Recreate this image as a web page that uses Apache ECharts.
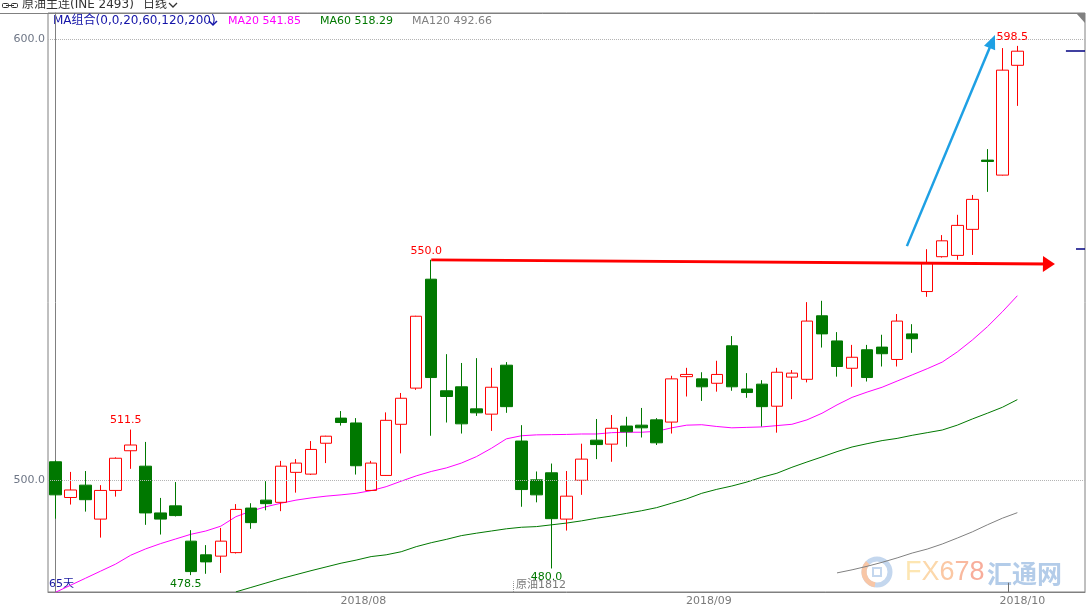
<!DOCTYPE html>
<html><head><meta charset="utf-8">
<script src="https://cdn.jsdelivr.net/npm/echarts@6/dist/echarts.min.js"></script>
<style>html,body{margin:0;padding:0;background:#fff}#c{width:1086px;height:609px}</style>
</head><body><div id="c"></div><script>
// ---------- data ----------
const dates = [
 '2018-07-02','2018-07-03','2018-07-04','2018-07-05','2018-07-06','2018-07-09','2018-07-10','2018-07-11','2018-07-12','2018-07-13',
 '2018-07-16','2018-07-17','2018-07-18','2018-07-19','2018-07-20','2018-07-23','2018-07-24','2018-07-25','2018-07-26','2018-07-27',
 '2018-07-30','2018-07-31',
 '2018-08-01','2018-08-02','2018-08-03','2018-08-06','2018-08-07','2018-08-08','2018-08-09','2018-08-10','2018-08-13','2018-08-14',
 '2018-08-15','2018-08-16','2018-08-17','2018-08-20','2018-08-21','2018-08-22','2018-08-23','2018-08-24','2018-08-27','2018-08-28',
 '2018-08-29','2018-08-30','2018-08-31',
 '2018-09-03','2018-09-04','2018-09-05','2018-09-06','2018-09-07','2018-09-10','2018-09-11','2018-09-12','2018-09-13','2018-09-14',
 '2018-09-17','2018-09-18','2018-09-19','2018-09-20','2018-09-21','2018-09-25','2018-09-26','2018-09-27','2018-09-28',
 '2018-10-08'
];
const emptySlots = ['2018-10-09','2018-10-10','2018-10-11','2018-10-12'];
const open = [504.2,496.1,498.9,491.2,497.7,506.7,503.2,492.6,494.2,486.2,
 483.1,482.8,483.6,493.7,495.5,495.0,501.8,501.4,508.4,514.1,
 513.0,497.7,501.1,512.7,520.9,545.6,520.3,521.2,516.2,515.0,
 526.1,508.9,500.1,501.7,491.2,500.0,509.1,508.2,512.3,512.5,
 513.7,513.2,523.5,523.0,522.0,530.5,520.7,521.8,516.8,523.4,
 522.9,537.3,531.6,525.4,529.6,530.2,527.4,533.2,542.8,550.7,
 551.0,556.9,572.6,569.2,594.1];
const close = [496.7,497.8,495.6,497.7,505.0,508.0,492.6,491.2,492.0,479.3,
 481.5,486.2,493.4,490.4,494.7,503.2,503.9,507.0,510.0,513.1,
 503.3,503.9,513.6,518.6,537.2,523.3,519.0,512.8,515.3,521.1,
 516.7,497.9,496.7,491.3,496.4,504.8,508.1,511.8,511.0,511.9,
 508.5,523.0,524.0,521.2,524.0,521.2,519.9,516.7,524.5,524.3,
 536.1,533.2,525.8,527.9,523.3,528.7,536.1,532.1,549.2,554.3,
 557.8,563.7,572.3,593.0,597.3];
const low = [491.3,494.5,492.9,487.0,496.3,502.6,489.9,487.7,491.8,478.5,
 478.8,479.0,483.4,489.0,493.2,493.0,497.2,501.2,503.9,512.4,
 501.3,497.6,501.0,506.1,520.5,510.1,513.1,510.6,514.6,511.2,
 515.3,494.0,495.0,480.0,488.6,496.7,504.8,504.2,507.6,509.7,
 508.0,510.6,519.0,518.0,520.1,520.3,518.7,512.2,510.8,518.4,
 522.2,530.1,523.5,521.2,522.4,525.8,525.8,528.9,541.6,550.5,
 550.0,551.1,565.4,569.1,584.9];
const high = [504.5,501.9,502.1,498.9,505.2,511.5,508.7,496.0,499.6,488.7,
 485.3,489.2,494.6,494.8,499.8,504.4,504.8,508.9,510.1,515.7,
 514.1,504.4,515.4,519.8,537.3,550.0,528.6,526.6,527.7,525.5,
 526.8,512.5,502.0,503.8,502.1,508.3,513.9,514.8,514.4,516.4,
 514.1,523.7,525.5,524.5,527.1,532.7,524.3,522.7,525.5,525.0,
 540.4,540.7,533.6,530.7,530.7,533.0,537.7,535.4,552.4,555.6,
 560.2,564.7,575.1,598.0,598.5];
const ma20 = [474.6,476.2,477.8,479.4,481.0,483.0,484.45,485.65,486.7,487.75,
 488.5,489.6,491.75,493.0,494.0,494.8,495.5,496.0,496.4,496.7,
 497.05,497.65,498.55,499.8,501.0,502.0,502.8,503.9,505.35,507.25,
 509.4,510.1,510.3,510.35,510.4,510.5,510.5,510.8,510.9,510.9,
 511.1,511.9,512.5,512.6,512.2,511.9,512.0,512.1,512.4,512.7,
 513.7,515.2,517.1,518.8,520.0,521.1,522.5,523.9,525.3,526.8,
 529.1,531.8,534.8,538.2,541.85];
const ma60 = [null,null,null,null,null,null,null,null,null,null,
 null,null,474.7,475.7,476.7,477.7,478.6,479.5,480.35,481.2,
 481.9,482.7,483.1,483.8,484.95,485.85,486.6,487.45,488.0,488.5,
 489.0,489.35,489.5,489.9,490.3,490.8,491.4,491.9,492.5,493.1,
 493.8,494.8,495.8,497.05,497.95,498.7,499.6,500.7,501.6,502.95,
 504.15,505.3,506.5,507.55,508.3,509.0,509.5,510.2,510.8,511.4,
 512.5,513.9,515.2,516.55,518.29];
const ma120 = [null,null,null,null,null,null,null,null,null,null,
 null,null,null,null,null,null,null,null,null,null,
 null,null,null,null,null,null,null,null,null,null,
 null,null,null,null,null,null,null,null,null,null,
 null,null,null,null,null,null,null,null,null,null,
 null,null,479.0,479.7,480.5,481.4,482.4,483.5,484.4,485.55,
 486.9,488.3,489.9,491.4,492.66];
const yTicks = [500, 600];
const highMarks = [5, 25, 64];
const lowMarks = [9, 33];
const contractName = '原油1812';
const levelMark = 552.4;

// ---------- build ----------
const FONT = 'DejaVu Sans, Noto Sans CJK SC, sans-serif';
const WM = '27px Liberation Sans, sans-serif';
const cats = dates.concat(emptySlots);
const lastIdx = dates.length - 1;
const candles = dates.map((d, i) => [open[i], close[i], low[i], high[i]]);
const monthStarts = [];
for (let i = 1; i < dates.length; i++) if (dates[i].slice(0, 7) !== dates[i - 1].slice(0, 7)) monthStarts.push(i);
const yMin = 474.67, yMax = 605.96;

const mp = highMarks.map(i => ({
  coord: [cats[i], high[i]], value: high[i],
  label: { position: 'top', distance: 3, color: '#ff0000' }
})).concat(lowMarks.map(i => ({
  coord: [cats[i], low[i]], value: low[i],
  label: { position: 'bottom', distance: 3, color: '#007800' }
})));

const chart = echarts.init(document.getElementById('c'), null, { renderer: 'canvas' });
chart.setOption({
  animation: false,
  textStyle: { fontFamily: FONT },
  grid: { left: 48, right: 1, top: 13, bottom: 17, show: true, borderColor: '#808080', borderWidth: 1 },
  xAxis: [{
    type: 'category', boundaryGap: true,
    data: cats.map((d, i) => i === lastIdx ? { value: d, textStyle: { align: 'center' } } : d),
    axisLine: { lineStyle: { color: '#808080' } }, axisTick: { show: false }, splitLine: { show: false },
    axisLabel: {
      interval: (i) => monthStarts.indexOf(i) >= 0,
      formatter: (v, i) => { const s = v.slice(0, 4) + '/' + v.slice(5, 7); return i === lastIdx ? '{o|' + s + '}' : s; },
      align: 'right', margin: 4, color: '#7a7a7a', fontSize: 11, fontFamily: FONT,
      rich: { o: { padding: [0, 0, 0, 10], color: '#7a7a7a', fontSize: 11, fontFamily: FONT } }
    }
  }, {
    type: 'value', min: -0.5, max: cats.length - 0.5, show: false
  }],
  yAxis: {
    type: 'value', min: yMin, max: yMax,
    axisLine: { show: true, lineStyle: { color: '#808080' } }, axisTick: { show: false }, splitLine: { show: false },
    axisLabel: { customValues: yTicks, formatter: v => v.toFixed(1), color: '#6e7686', fontSize: 11, fontFamily: FONT, margin: 3 }
  },
  graphic: [
    { type: 'line', shape: { x1: 0, y1: 13.5, x2: 1085, y2: 13.5 }, style: { stroke: '#808080', lineWidth: 1 } },
    { type: 'polygon', shape: { points: [[1076, 13], [1085, 13], [1085, 23]] }, style: { fill: '#808080' } },
    { type: 'rect', shape: { x: 2.5, y: 3.5, width: 6, height: 4, r: 1 }, style: { fill: 'none', stroke: '#333', lineWidth: 1 } },
    { type: 'rect', shape: { x: 11.5, y: 3.5, width: 6, height: 4, r: 1 }, style: { fill: 'none', stroke: '#333', lineWidth: 1 } },
    { type: 'line', shape: { x1: 6, y1: 5.5, x2: 14, y2: 5.5 }, style: { stroke: '#333', lineWidth: 1 } },
    { type: 'text', x: 22, y: 5, style: { text: '原油主连(INE 2493)', fill: '#333', font: '12px ' + FONT, verticalAlign: 'middle' } },
    { type: 'text', x: 143, y: 5, style: { text: '日线', fill: '#333', font: '12px ' + FONT, verticalAlign: 'middle' } },
    { type: 'polyline', shape: { points: [[169, 3], [173, 7], [177, 3]] }, style: { stroke: '#333', lineWidth: 1.3, fill: 'none' } },
    { type: 'text', x: 53, y: 21, style: { text: 'MA组合(0,0,20,60,120,200)', fill: '#1414a8', font: '12px ' + FONT, verticalAlign: 'middle' } },
    { type: 'polyline', shape: { points: [[209, 21], [213, 25], [217, 21]] }, style: { stroke: '#1414a8', lineWidth: 1.5, fill: 'none' } },
    { type: 'text', x: 228, y: 21, style: { text: 'MA20 ' + ma20[lastIdx].toFixed(2), fill: '#ff00ff', font: '11px ' + FONT, verticalAlign: 'middle' } },
    { type: 'text', x: 320, y: 21, style: { text: 'MA60 ' + ma60[lastIdx].toFixed(2), fill: '#007800', font: '11px ' + FONT, verticalAlign: 'middle' } },
    { type: 'text', x: 412, y: 21, style: { text: 'MA120 ' + ma120[lastIdx].toFixed(2), fill: '#808080', font: '11px ' + FONT, verticalAlign: 'middle' } },
    { type: 'text', x: 49, y: 584, style: { text: dates.length + '天', fill: '#1a1aa0', font: '11px ' + FONT, verticalAlign: 'middle' } },
    { type: 'text', x: 516, y: 585, style: { text: contractName, fill: '#7a7a7a', font: '11px ' + FONT, verticalAlign: 'middle' } },
    { type: 'group', z: -1, children: [
      { type: 'circle', shape: { cx: 877, cy: 572, r: 13 }, style: { fill: 'none', stroke: '#c4d7ee', lineWidth: 5 } },
      { type: 'arc', shape: { cx: 877, cy: 572, r: 13, startAngle: Math.PI * 0.55, endAngle: Math.PI * 1.25 }, style: { fill: 'none', stroke: '#f8c6a6', lineWidth: 5 } },
      { type: 'rect', shape: { x: 873, y: 568, width: 8, height: 8 }, style: { fill: 'none', stroke: '#c4d7ee', lineWidth: 2 } },
      { type: 'text', x: 905, y: 573, style: {
        text: '{a|F}{b|X}{c|6}{d|7}{e|8}', font: WM, verticalAlign: 'middle',
        rich: {
          a: { fill: '#fde6b2', font: WM }, b: { fill: '#fcd8ab', font: WM }, c: { fill: '#fbc8a4', font: WM },
          d: { fill: '#f9b99f', font: WM }, e: { fill: '#f8ad9b', font: WM }
        } } },
      { type: 'text', x: 987, y: 573, style: { text: '汇通网', font: 'bold 25px Noto Sans CJK SC, sans-serif', verticalAlign: 'middle', fill: '#b3cce9' } }
    ] }
  ],
  series: [
    { name: 'MA20', type: 'line', data: ma20, symbol: 'none', silent: true, lineStyle: { color: '#ff00ff', width: 1 }, z: 2 },
    { name: 'MA60', type: 'line', data: ma60, symbol: 'none', silent: true, lineStyle: { color: '#007800', width: 1 }, z: 2 },
    { name: 'MA120', type: 'line', data: ma120, symbol: 'none', silent: true, lineStyle: { color: '#808080', width: 1 }, z: 2 },
    {
      name: 'K', type: 'candlestick', data: candles, barWidth: 12, z: 3,
      itemStyle: { color: 'transparent', color0: '#007800', borderColor: '#ff0000', borderColor0: '#007800', borderWidth: 1 },
      markLine: {
        silent: true, symbol: 'none', label: { show: false },
        lineStyle: { color: '#b4b4b4', type: 'dotted', width: 1 },
        data: yTicks.map(v => ({ yAxis: v }))
      },
      markPoint: {
        symbol: 'circle', symbolSize: 1, silent: true,
        itemStyle: { color: 'rgba(0,0,0,0)' },
        label: { show: true, fontSize: 11, fontFamily: FONT, offset: [-5, 0], formatter: p => Number(p.value).toFixed(1) },
        data: mp
      }
    },
    {
      name: 'annot', type: 'line', xAxisIndex: 1, data: [], z: 5,
      markLine: {
        silent: true, label: { show: false }, symbol: ['none', 'none'],
        data: [
          [{ coord: [25, high[25]], symbol: 'none', lineStyle: { color: '#ff0000', width: 2.8, type: 'solid' } },
           { coord: [66.1, 549.05], symbol: 'triangle', symbolSize: [16, 12] }],
          [{ coord: [56.65, 553.1], symbol: 'none', lineStyle: { color: '#1ea0e4', width: 2.5, type: 'solid' } },
           { coord: [62.33, 599.5], symbol: 'triangle', symbolSize: [12, 14] }],
          [{ coord: [67.23, close[lastIdx]], lineStyle: { color: '#000080', width: 1.5, type: 'solid' } },
           { coord: [68.5, close[lastIdx]] }],
          [{ coord: [67.9, levelMark], lineStyle: { color: '#000080', width: 1.5, type: 'solid' } },
           { coord: [68.5, levelMark] }],
          [{ coord: [63.4, yMin], lineStyle: { color: '#707070', width: 1, type: 'solid' } },
           { coord: [63.4, yMin + 2.1] }],
          [{ coord: [30.44, yMin], lineStyle: { color: '#909090', width: 1, type: 'dotted' } },
           { coord: [30.44, yMin + 2.4] }]
        ]
      }
    }
  ]
});
</script></body></html>
